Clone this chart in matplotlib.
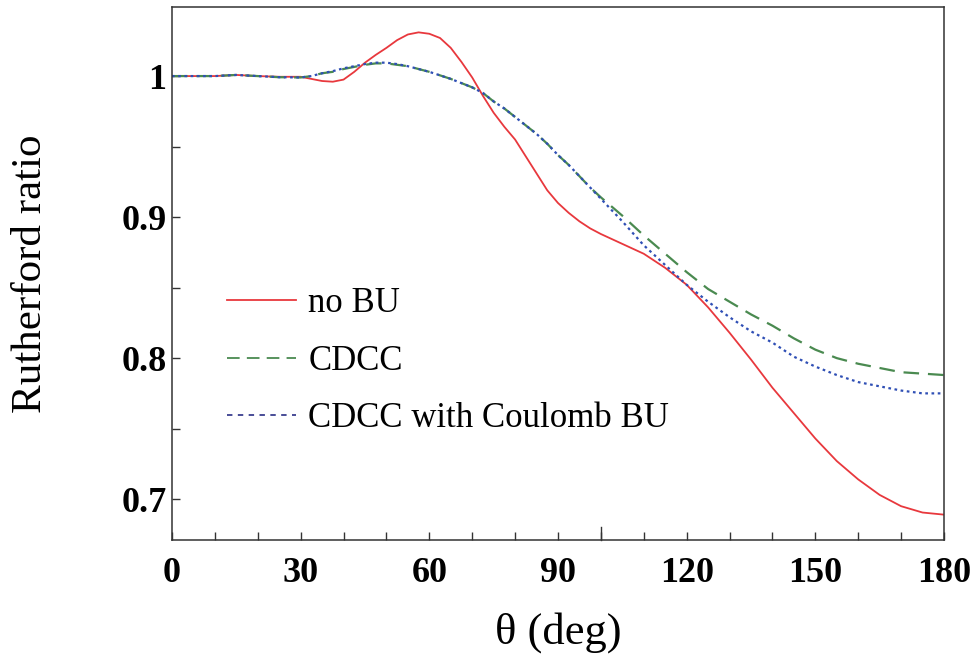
import matplotlib
matplotlib.use('Agg')
import matplotlib.pyplot as plt
import numpy as np

# scattering angle (deg) and Rutherford ratios
theta = [0, 5, 10, 15, 20, 25, 30, 32.5, 35, 37.5, 40, 42.5, 45, 47.5, 50,
         52.5, 55, 57.5, 60, 62.5, 65, 67.5, 70, 72.5, 75, 77.5, 80, 82.5, 85,
         87.5, 90, 92.5, 95, 97.5, 100, 105, 110, 115, 120, 125, 130, 135, 140,
         145, 150, 155, 160, 165, 170, 175, 180]

no_bu = [1.000, 1.000, 1.000, 1.0008, 1.000, 0.9995, 0.9995, 0.998, 0.9965,
         0.996, 0.9975, 1.003, 1.0095, 1.015, 1.020, 1.0255, 1.0295, 1.031,
         1.030, 1.027, 1.020, 1.010, 0.999, 0.986, 0.974, 0.964, 0.955, 0.943,
         0.931, 0.919, 0.910, 0.903, 0.897, 0.892, 0.888, 0.881, 0.874, 0.864,
         0.852, 0.836, 0.818, 0.799, 0.779, 0.761, 0.743, 0.727, 0.714, 0.703,
         0.695, 0.6905, 0.689]

cdcc = [1.000, 1.000, 1.000, 1.0008, 1.000, 0.9992, 0.999, 1.000, 1.002,
        1.003, 1.005, 1.0065, 1.008, 1.009, 1.009, 1.008, 1.007, 1.005,
        1.003, 1.0005, 0.998, 0.995, 0.992, 0.988, 0.982, 0.977, 0.971, 0.965,
        0.959, 0.952, 0.944, 0.937, 0.929, 0.921, 0.914, 0.901, 0.887, 0.874,
        0.861, 0.849, 0.840, 0.831, 0.823, 0.814, 0.806, 0.800, 0.796, 0.793,
        0.790, 0.789, 0.788]

cdcc_coul = [1.000, 1.000, 1.000, 1.0008, 1.000, 0.9992, 0.999, 1.000, 1.002,
             1.0035, 1.0055, 1.007, 1.0085, 1.0095, 1.0095, 1.0085, 1.007, 1.005,
             1.003, 1.0005, 0.998, 0.995, 0.992, 0.988, 0.982, 0.977, 0.971, 0.965,
             0.959, 0.952, 0.944, 0.937, 0.929, 0.921, 0.913, 0.897, 0.880, 0.866,
             0.852, 0.840, 0.829, 0.819, 0.811, 0.801, 0.794, 0.788, 0.783, 0.780,
             0.777, 0.775, 0.775]

x_ticks = [0, 30, 60, 90, 120, 150, 180]
y_ticks = [0.7, 0.8, 0.9, 1.0]
y_tick_labels = ['0.7', '0.8', '0.9', '1']

serif = 'Liberation Serif'

fig = plt.figure(figsize=(9.76, 6.64), dpi=100)
ax = fig.add_axes([0.1762, 0.1867, 0.7910, 0.8028])

ax.plot(theta, no_bu, color='#e8383d', lw=1.3, label='no BU')
ax.plot(theta, cdcc, color='#4a8a50', lw=1.6, linestyle=(0, (7, 4)), label='CDCC')
ax.plot(theta, cdcc_coul, color='#2f4fb5', lw=1.6, linestyle=(0, (1.2, 1.6)),
        label='CDCC with Coulomb BU')

ax.set_xlim(0, 180)
ax.set_ylim(0.671, 1.049)

# ticks: inward, minor every 10 deg / 0.05
ax.set_xticks(x_ticks)
ax.set_xticks([t for t in range(10, 180, 10) if t % 30 != 0], minor=True)
ax.set_yticks(y_ticks)
ax.set_yticklabels(y_tick_labels)
ax.set_yticks([0.75, 0.85, 0.95], minor=True)
ax.tick_params(which='both', direction='in', length=6, width=1.0, color='#333333',
               top=False, right=False)
ax.tick_params(axis='x', which='major', pad=12)
ax.tick_params(axis='y', which='major', pad=4)
# longer tick at 100 deg, as in the original
ax.plot([100, 100], [0, 0.025], transform=ax.get_xaxis_transform(),
        color='#333333', lw=1.0, clip_on=False)

for lab in ax.get_xticklabels() + ax.get_yticklabels():
    lab.set_fontfamily(serif)
    lab.set_fontweight('bold')
    lab.set_fontsize(26)

for s in ax.spines.values():
    s.set_color('#333333')
    s.set_linewidth(1.1)

ax.set_xlabel('θ (deg)', fontfamily=serif, fontsize=32)
ax.set_ylabel('Rutherford ratio', fontfamily=serif, fontsize=31)
ax.xaxis.set_label_coords(0.5, -0.135)
ax.yaxis.set_label_coords(-0.158, 0.5)

leg = ax.legend(loc='upper left', bbox_to_anchor=(0.053, 0.50), frameon=False,
                prop={'family': serif, 'size': 25}, handlelength=2.0,
                handletextpad=0.35, labelspacing=0.70, borderaxespad=0)
for line in leg.get_lines():
    line.set_linewidth(1.3)
leg.get_lines()[2].set_linestyle((0, (3, 3)))
leg.get_lines()[2].set_color('#3a3f8f')

fig.savefig('out.png', dpi=100)
